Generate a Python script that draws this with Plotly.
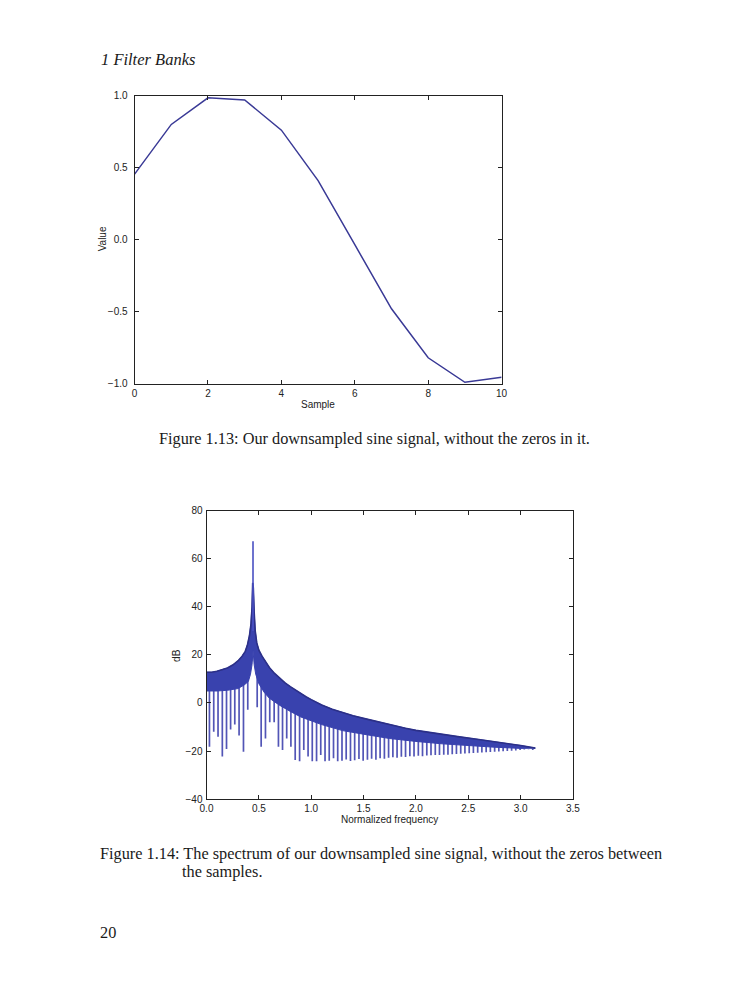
import numpy as np
import plotly.graph_objects as go

W, H = 752, 1000

# Figure 1.13: downsampled sine samples
sample_idx = [0, 1, 2, 3, 4, 5, 6, 7, 8, 9, 10]
sample_val = [0.455, 0.80, 0.985, 0.97, 0.76, 0.41, -0.035, -0.48, -0.82, -0.99, -0.955]

upper_x = [0.0, 0.05, 0.10, 0.15, 0.20, 0.25, 0.30, 0.34, 0.37, 0.39, 0.41, 0.425, 0.435,
           0.441, 0.447, 0.455, 0.465, 0.48, 0.50, 0.53, 0.56, 0.60, 0.65, 0.70, 0.75, 0.80,
           0.85, 0.90, 0.95, 1.00, 1.10, 1.20, 1.30, 1.40, 1.50, 1.60, 1.70, 1.80, 1.90,
           2.00, 2.20, 2.40, 2.60, 2.80, 3.00, 3.14]
upper_db = [12.8, 12.8, 13.2, 13.8, 14.6, 15.8, 17.5, 19.5, 21.5, 24.0, 28.0, 33.0, 40.0,
            50.0, 48.0, 38.0, 30.0, 25.0, 22.0, 19.5, 17.3, 14.8, 12.3, 10.2, 8.4, 6.8,
            5.3, 3.9, 2.6, 1.4, -0.8, -2.6, -4.1, -5.3, -6.4, -7.5, -8.5, -9.5, -10.5,
            -11.4, -12.8, -14.0, -15.2, -16.3, -17.7, -18.8]

lower_x = [0.0, 0.10, 0.20, 0.30, 0.36, 0.40, 0.42, 0.435, 0.444, 0.455, 0.47, 0.50, 0.55,
           0.60, 0.70, 0.80, 0.90, 1.00, 1.10, 1.30, 1.50, 1.75, 2.00, 2.25, 2.50, 2.75,
           3.00, 3.14]
lower_db = [5.0, 5.0, 5.3, 6.0, 7.5, 9.0, 12.0, 16.0, 22.0, 16.0, 12.0, 8.0, 4.5,
            2.0, -1.0, -3.5, -5.8, -7.5, -9.0, -11.5, -13.0, -14.8, -16.0, -17.0, -17.8,
            -18.4, -18.9, -18.8]

null_x = [0.028, 0.069, 0.110, 0.151, 0.191, 0.230, 0.270, 0.311, 0.353, 0.394, 0.432,
          0.484, 0.522, 0.563, 0.604, 0.646, 0.687, 0.726, 0.766, 0.806, 0.847, 0.889,
          0.929, 0.970, 1.010, 1.051, 1.091, 1.132, 1.172, 1.213, 1.253, 1.294, 1.334,
          1.375, 1.415, 1.456, 1.496, 1.537, 1.577, 1.618, 1.658, 1.699, 1.739, 1.780,
          1.820, 1.861, 1.901, 1.942, 1.982, 2.023, 2.063, 2.104, 2.144, 2.185, 2.225,
          2.266, 2.306, 2.347, 2.387, 2.428, 2.468, 2.509, 2.549, 2.590, 2.630, 2.671,
          2.711, 2.752, 2.792, 2.833, 2.873, 2.914, 2.954, 2.995, 3.035, 3.076, 3.116]
null_db = [-18.2, -12.0, -14.0, -22.3, -19.2, -11.0, -9.0, -13.5, -20.3, -2.8, 17.4,
           -1.8, -18.2, -14.8, -8.0, -8.0, -18.2, -19.6, -14.8, -18.2, -23.7, -24.3,
           -19.6, -22.3, -24.3, -24.3, -21.6, -24.3, -24.0, -23.0, -24.3, -24.0, -23.5,
           -24.2, -23.8, -23.3, -24.0, -23.6, -23.2, -23.6, -23.0, -23.2, -22.8, -22.6,
           -22.8, -22.4, -22.5, -22.2, -22.3, -22.0, -22.2, -21.9, -21.8, -21.7, -21.7,
           -21.5, -21.5, -21.3, -21.2, -21.1, -21.0, -20.9, -20.8, -20.7, -20.6, -20.5,
           -20.4, -20.3, -20.2, -20.1, -20.0, -19.9, -19.8, -19.6, -19.4, -19.2, -19.0]

peak_x = 0.444
peak_db = 67.4


def px(x):
    return x / W


def py(y):
    return 1 - y / H


fig = go.Figure()

# figure 1.13
fig.add_trace(go.Scatter(x=sample_idx, y=sample_val, mode='lines',
                         line=dict(color='#3a3a96', width=1.5),
                         xaxis='x', yaxis='y', showlegend=False))

# figure 1.14 - nulls first so the band covers their tops
seg_top = np.interp(null_x, upper_x, upper_db) - 1
nx, ny = [], []
for x0, t, b in zip(null_x, seg_top, null_db):
    nx += [x0, x0, None]
    ny += [t, b, None]
fig.add_trace(go.Scatter(x=nx, y=ny, mode='lines', line=dict(color='#5255b6', width=1.7),
                         xaxis='x2', yaxis='y2', showlegend=False))

band_x = upper_x + lower_x[::-1]
band_y = upper_db + lower_db[::-1]
fig.add_trace(go.Scatter(x=band_x, y=band_y, mode='lines', fill='toself',
                         fillcolor='#3942ae', line=dict(color='#3942ae', width=1),
                         xaxis='x2', yaxis='y2', showlegend=False))
fig.add_trace(go.Scatter(x=upper_x, y=upper_db, mode='lines',
                         line=dict(color='#2c3088', width=1.6),
                         xaxis='x2', yaxis='y2', showlegend=False))
fig.add_trace(go.Scatter(x=[peak_x, peak_x], y=[30, peak_db], mode='lines',
                         line=dict(color='#4a50c2', width=1.6),
                         xaxis='x2', yaxis='y2', showlegend=False))

tick_font = dict(family='Liberation Sans, Arial, sans-serif', size=10, color='#222')
axis_common = dict(showline=True, linecolor='#222', linewidth=1, mirror='ticks',
                   ticks='inside', ticklen=4, tickcolor='#222', showgrid=False,
                   zeroline=False, tickfont=tick_font)

fig.update_layout(
    width=W, height=H,
    margin=dict(l=0, r=0, t=0, b=0),
    paper_bgcolor='white', plot_bgcolor='white',
    xaxis=dict(domain=[px(130), px(504)], range=[0, 10], tickvals=[0, 2, 4, 6, 8, 10],
               anchor='y', **axis_common),
    yaxis=dict(domain=[py(382.3), py(90.7)], range=[-1, 1],
               tickvals=[-1, -0.5, 0, 0.5, 1],
               ticktext=['\u22121.0', '\u22120.5', '0.0', '0.5', '1.0'],
               ticklabelstandoff=4, anchor='x', **axis_common),
    xaxis2=dict(domain=[px(203.3), px(576.7)], range=[0, 3.5],
                tickvals=[0, 0.5, 1, 1.5, 2, 2.5, 3, 3.5],
                ticktext=['0.0', '0.5', '1.0', '1.5', '2.0', '2.5', '3.0', '3.5'],
                anchor='y2', **axis_common),
    yaxis2=dict(domain=[py(802.7), py(511)], range=[-40, 80],
                tickvals=[-40, -20, 0, 20, 40, 60, 80],
                ticktext=['\u221240', '\u221220', '0', '20', '40', '60', '80'],
                ticklabelstandoff=1, anchor='x2', **axis_common),
)

label_font = dict(family='Liberation Sans, Arial, sans-serif', size=10, color='#222')
serif = dict(family='Liberation Serif, Times New Roman, serif', size=16.3, color='#1a1a1a')

annots = [
    dict(text='Sample', x=px(317), y=py(403), font=label_font),
    dict(text='Value', x=px(97), y=py(236), font=label_font, textangle=-90),
    dict(text='Normalized frequency', x=px(390), y=py(823), font=label_font),
    dict(text='dB', x=px(172), y=py(657), font=label_font, textangle=-90),
    dict(text='Figure 1.13: Our downsampled sine signal, without the zeros in it.',
         x=px(374.5), y=py(438), font=serif),
    dict(text='Figure 1.14: The spectrum of our downsampled sine signal, without the zeros between',
         x=px(93), y=py(858), font=serif, xanchor='left'),
    dict(text='the samples.', x=px(176), y=py(876), font=serif, xanchor='left'),
    dict(text='20', x=px(93), y=py(938), font=serif, xanchor='left'),
    dict(text='<i>1 Filter Banks</i>', x=px(94), y=py(54), font=dict(serif, size=16.5),
         xanchor='left'),
]
for a in annots:
    a.setdefault('xanchor', 'center')
    fig.add_annotation(xref='paper', yref='paper', yanchor='middle', showarrow=False, **a)

# page body has a default margin; drop it so the figure sits at the window origin
fig.write_html('out.html', config={'displayModeBar': False},
               post_script="document.body.style.margin='0';")
